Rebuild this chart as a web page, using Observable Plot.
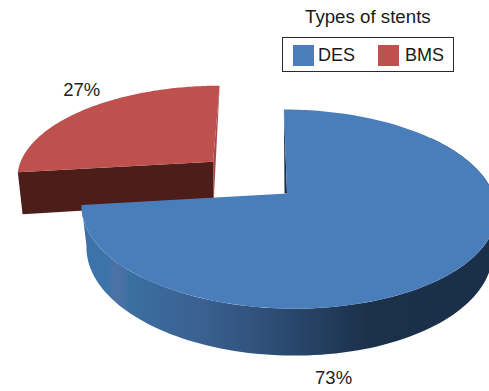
<!DOCTYPE html>
<html>
<head>
<meta charset="utf-8">
<style>
  html, body { margin: 0; padding: 0; background: #fff; }
  body { width: 489px; font-family: "Liberation Sans", Arial, sans-serif; color: #1a1a1a; overflow: hidden; }
  #legend { position: relative; height: 78px; }
  #legend .title { position: absolute; left: 305px; top: 6px; font-size: 18.7px; line-height: 22px; white-space: nowrap; }
  #legend .box { position: absolute; left: 282px; top: 37px; width: 170px; height: 33px; border: 1.5px solid #2a2a2a; box-sizing: content-box; }
  #legend .swatch { position: absolute; top: 6.5px; width: 21px; height: 21px; }
  #legend .name { position: absolute; top: 6.5px; font-size: 18px; line-height: 21px; }
  svg { display: block; }
</style>
<script src="https://cdn.jsdelivr.net/npm/d3@7"></script>
<script src="https://cdn.jsdelivr.net/npm/@observablehq/plot@0.6"></script>
</head>
<body>
<div id="legend"></div>
<script>
// Stent shares, in percent, and their colours
const categories = ["DES", "BMS"];
const shares = [73, 27];
const topColors = ["#4a7ebb", "#be504e"];
const legendTitle = "Types of stents";

// Perspective view of the pie: disc coordinates (u, v) to page pixels
const view = {
  pitch: 0.156, yaw: -0.01, tilt: 0.012,
  top: {cx: 286.5, cy: 193, rx: 205, ry: 97.1},
  base: {cx: 287, cy: 233, rx: 200.6, ry: 103},
  liftedBase: {cx: 285.5, cy: 236, rx: 200.6, ry: 103}
};
const project = (u, v, plane = view.top) => {
  const w = 1 + view.pitch * v + view.yaw * u;
  const sx = plane.rx * u / w;
  return {x: plane.cx + sx, y: plane.cy - plane.ry * v / w + view.tilt * sx};
};

// The first slice starts just left of twelve o'clock; the second is pulled away from the centre
const startAngle = -1;
const explode = [[0, 0], [-0.381, 0.336]];
const labelSpots = [[0.175, -1.463], [-1.21, 1.26]];

let running = startAngle;
const slices = categories.map((name, i) => {
  const a0 = running;
  const a1 = a0 + shares[i] * 3.6;
  running = a1;
  return {name, i, a0, a1, du: explode[i][0], dv: explode[i][1]};
});

const onRim = (s, deg, plane) => {
  const t = deg * Math.PI / 180;
  return project(s.du + Math.sin(t), s.dv + Math.cos(t), plane);
};
const arc = (s, from, to, plane) => d3.range(0, 121).map(j => onRim(s, from + (to - from) * j / 120, plane));

const [des, bms] = slices;
const tag = (pts, id) => pts.map(p => ({...p, id}));

const bmsFace = tag([project(bms.du, bms.dv), ...arc(bms, bms.a0, bms.a1)], "face");
const bmsFront = tag([
  project(bms.du, bms.dv),
  onRim(bms, bms.a0),
  onRim(bms, bms.a0, view.liftedBase),
  project(bms.du, bms.dv, view.liftedBase)
], "front");
const bmsSide = tag([
  onRim(bms, bms.a1),
  project(bms.du, bms.dv),
  project(bms.du, bms.dv, view.liftedBase)
], "side");

const desWall = tag([...arc(des, 50, des.a1), ...arc(des, des.a1, 50, view.base)], "wall");
const desFace = tag([project(0, 0), ...arc(des, des.a0, des.a1)], "face");
const hub = project(0, 0);
const desCut = tag([onRim(des, des.a0), hub, {x: hub.x - 2.5, y: hub.y}], "cut");

const labels = slices.map((s, i) => ({
  text: `${shares[i]}%`,
  ...project(labelSpots[i][0], labelSpots[i][1])
}));

// Side-wall shading, lit from the left, with the narrow highlight band near the cut
const wallShade = () => {
  const defs = d3.create("svg:defs");
  const g = defs.append("linearGradient")
    .attr("id", "wallShade").attr("gradientUnits", "userSpaceOnUse")
    .attr("x1", 85).attr("x2", 480).attr("y1", 0).attr("y2", 0);
  [[0, "#3c74a9"], [0.06, "#3c74a9"], [0.072, "#4b73a5"], [0.096, "#4871a3"], [0.11, "#39709f"], [0.14, "#3b6c9e"],
   [0.3, "#3a6090"], [0.5, "#2b4a70"], [0.72, "#1b3049"], [1, "#1a2f49"]]
    .forEach(([o, c]) => g.append("stop").attr("offset", o).attr("stop-color", c));
  return defs.node();
};

const polygon = (pts, fill) => Plot.line(pts, {x: "x", y: "y", z: "id", fill, stroke: null, curve: "linear-closed"});

const chart = Plot.plot({
  width: 489,
  height: 313,
  margin: 0,
  x: {domain: [0, 489], range: [0, 489], axis: null},
  y: {domain: [78, 391], range: [0, 313], axis: null},
  marks: [
    wallShade,
    polygon(bmsSide, "#a84b48"),
    polygon(bmsFront, "#4c1d19"),
    polygon(bmsFace, topColors[1]),
    polygon(desCut, "#16304e"),
    polygon(desWall, "url(#wallShade)"),
    polygon(desFace, topColors[0]),
    Plot.text(labels, {x: "x", y: "y", text: "text", fontSize: 18.5, fill: "#222", fontFamily: "Liberation Sans, Arial, sans-serif"})
  ]
});
document.body.appendChild(chart);

// Legend above the plot
const legend = d3.select("#legend");
legend.append("div").attr("class", "title").text(legendTitle);
const box = legend.append("div").attr("class", "box");
const swatchLeft = [9.5, 94.5];
const nameLeft = [35, 122];
categories.forEach((name, i) => {
  box.append("div").attr("class", "swatch").style("left", swatchLeft[i] + "px").style("background", topColors[i]);
  box.append("div").attr("class", "name").style("left", nameLeft[i] + "px").text(name);
});
</script>
</body>
</html>
